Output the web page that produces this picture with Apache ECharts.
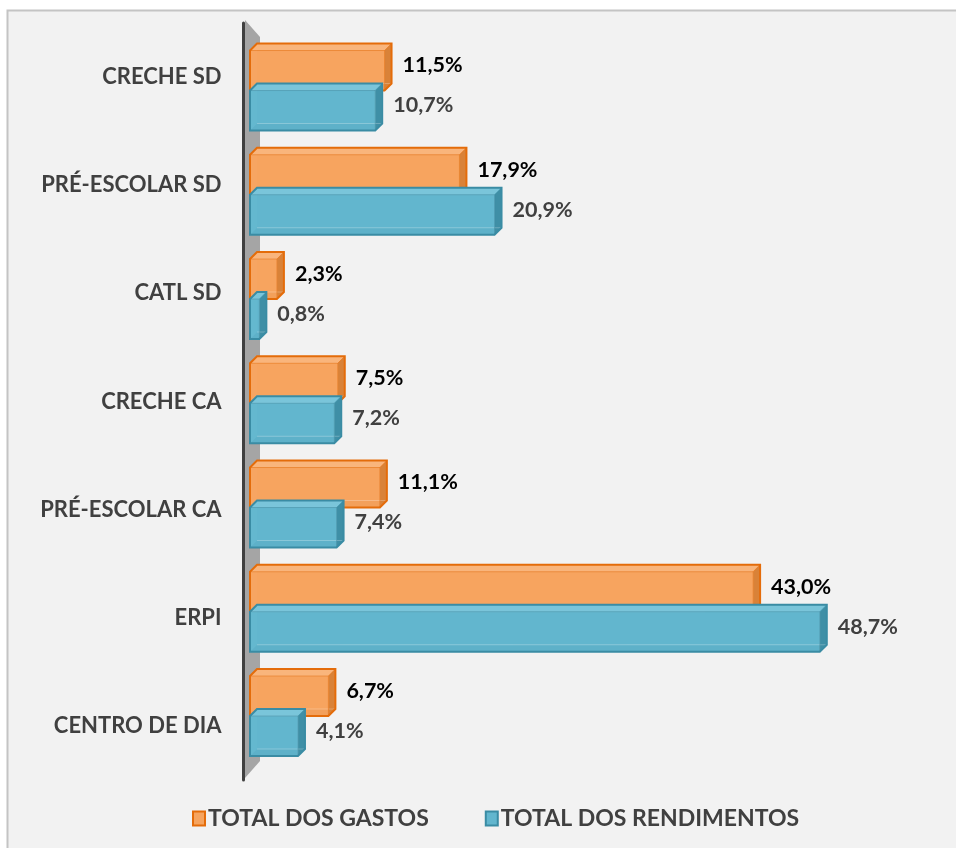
<!DOCTYPE html>
<html><head><meta charset="utf-8">
<script src="https://cdn.jsdelivr.net/npm/echarts@6/dist/echarts.min.js"></script>
<style>html,body{margin:0;padding:0;background:#fff}#c{width:956px;height:848px}</style>
</head><body><div id="c"></div><script>
const categories = ['CRECHE SD','PRÉ-ESCOLAR SD','CATL SD','CRECHE CA','PRÉ-ESCOLAR CA','ERPI','CENTRO DE DIA'];
const gastos = [11.5,17.9,2.3,7.5,11.1,43.0,6.7];
const rendimentos = [10.7,20.9,0.8,7.2,7.4,48.7,4.1];
const seriesNames = ['TOTAL DOS GASTOS','TOTAL DOS RENDIMENTOS'];

const palettes = [
  {front:'#F6A45F', top:'#F9B57C', side:'#D98238', bottom:'#C86E26', border:'#E46C0A', label:'#000000'},
  {front:'#62B6CE', top:'#7AC5DA', side:'#3F8FA6', bottom:'#357789', border:'#3A8CA4', label:'#404040'}
];
const BW = 40, DX = 7, DY = -7;
function fmt(v){ return v.toFixed(1).replace('.', ',') + '%'; }

function makeRender(sIdx){
  const pal = palettes[sIdx];
  return function(params, api){
    const v = api.value(0), ci = api.value(1);
    const p0 = api.coord([0, ci]), p1 = api.coord([v, ci]);
    const x0 = p0[0], x1 = p1[0];
    const t = sIdx === 0 ? p0[1] - BW : p0[1];
    const b = t + BW;
    const poly = (pts, fill, stroke, lw) => ({type:'polygon', shape:{points:pts}, style:{fill:fill, stroke:stroke||null, lineWidth:lw||0}});
    return {type:'group', children:[
      poly([[x0+DX,t+DY],[x1+DX,t+DY],[x1+DX,b+DY],[x0+DX,b+DY]], pal.front),
      poly([[x0,b],[x1,b],[x1+DX,b+DY],[x0+DX,b+DY]], pal.bottom),
      poly([[x0,t],[x0+DX,t+DY],[x0+DX,b+DY],[x0,b]], pal.top),
      poly([[x1,t],[x1+DX,t+DY],[x1+DX,b+DY],[x1,b]], pal.side),
      poly([[x0,t],[x1,t],[x1+DX,t+DY],[x0+DX,t+DY]], pal.top),
      {type:'rect', shape:{x:x0, y:t, width:x1-x0, height:BW}, style:{fill:pal.front, opacity:0.92, stroke:'rgba(255,255,255,0.18)', lineWidth:1}},
      {type:'polyline', shape:{points:[[x0+DX,b+DY],[x1+DX,b+DY],[x1+DX,t+DY]]}, style:{fill:null, stroke:'rgba(255,255,255,0.25)', lineWidth:1}},
      poly([[x0,t],[x0+DX,t+DY],[x1+DX,t+DY],[x1+DX,b+DY],[x1,b],[x0,b]], null, pal.border, 2),
      {type:'polyline', shape:{points:[[x0,t],[x1,t],[x1+DX,t+DY]]}, style:{fill:null, stroke:pal.border, lineWidth:1, opacity:0.6}},
      {type:'line', shape:{x1:x1, y1:t, x2:x1, y2:b}, style:{stroke:pal.border, lineWidth:1, opacity:0.6}},
      {type:'text', style:{text:fmt(v), x:x1+18, y:(t+b)/2-5, fill:pal.label, font:'bold 21.5px Lato', verticalAlign:'middle', align:'left'}}
    ]};
  };
}

const chart = echarts.init(document.getElementById('c'), null, {renderer:'canvas'});
chart.setOption({
  backgroundColor:'#ffffff',
  animation:false,
  graphic:[
    {type:'rect', z:-10, shape:{x:7.5, y:10.5, width:1000, height:1000}, style:{fill:'#f2f2f2', stroke:'#c4c4c4', lineWidth:2}},
    {type:'polygon', z:-5, shape:{points:[[245,20],[260,37],[260,761],[245,778]]}, style:{fill:'#a5a5a5'}}
  ],
  legend:{
    left:187, top:802, itemGap:56, itemWidth:12, itemHeight:14,
    textStyle:{fontFamily:'Lato', fontWeight:'bold', fontSize:23, color:'#404040', padding:[0,0,0,-2]},
    data:[
      {name:seriesNames[0], icon:'rect', itemStyle:{color:palettes[0].front, borderColor:palettes[0].border, borderWidth:2}},
      {name:seriesNames[1], icon:'rect', itemStyle:{color:palettes[1].front, borderColor:palettes[1].border, borderWidth:2}}
    ]
  },
  grid:[
    {left:250, right:4, top:38.4, height:729.75},
    {left:243.5, right:4, top:23, height:757}
  ],
  xAxis:[
    {type:'value', gridIndex:0, min:0, max:60, show:false},
    {type:'value', gridIndex:1, min:0, max:60, show:false}
  ],
  yAxis:[
    {type:'category', gridIndex:0, data:categories, inverse:true, show:false},
    {type:'category', gridIndex:1, data:categories, inverse:true,
      axisLine:{show:true, lineStyle:{color:'#404040', width:3}}, axisTick:{show:false},
      axisLabel:{margin:22, fontFamily:'Lato', fontWeight:'bold', fontSize:22, color:'#404040'}}
  ],
  series:[
    {type:'custom', name:seriesNames[0], xAxisIndex:0, yAxisIndex:0, z:3,
      itemStyle:{color:palettes[0].front, borderColor:palettes[0].border},
      renderItem:makeRender(0), encode:{x:0, y:1},
      data:gastos.map((v,i)=>[v,i])},
    {type:'custom', name:seriesNames[1], xAxisIndex:0, yAxisIndex:0, z:4,
      itemStyle:{color:palettes[1].front, borderColor:palettes[1].border},
      renderItem:makeRender(1), encode:{x:0, y:1},
      data:rendimentos.map((v,i)=>[v,i])}
  ]
});
</script></body></html>
